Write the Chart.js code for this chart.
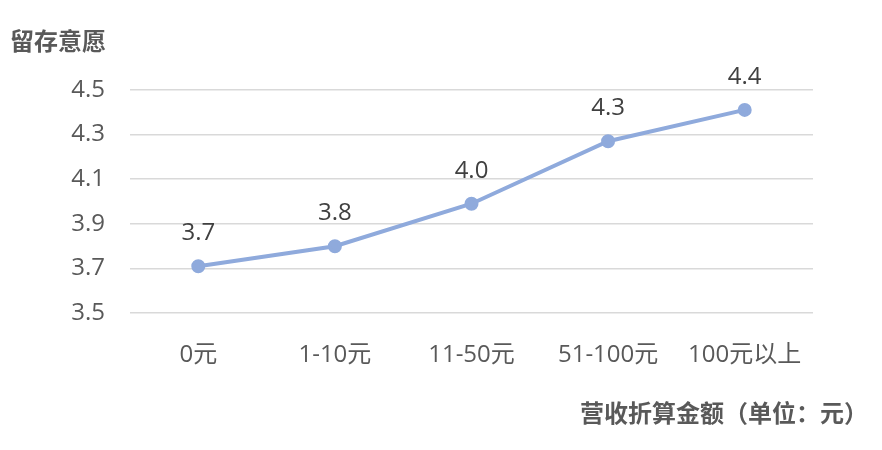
<!DOCTYPE html>
<html lang="zh">
<head>
    <meta charset="UTF-8">
    <title>留存意愿</title>
    <script src="https://cdn.jsdelivr.net/npm/chart.js"></script>
    <style>
        body { margin: 0; background: #fff; }
        #wrap { width: 882px; height: 450px; }
    </style>
</head>
<body>
    <div id="wrap"><canvas id="retentionChart"></canvas></div>
    <script>
        const categories = ['0元', '1-10元', '11-50元', '51-100元', '100元以上'];
        const retention = [3.71, 3.80, 3.99, 4.27, 4.41];
        const yTitle = '留存意愿';
        const xTitle = '营收折算金额（单位：元）';

        const fontFamily = "'Open Sans', 'Noto Sans CJK SC', sans-serif";
        const cjkFamily = "'Noto Sans CJK SC', sans-serif";

        // value above each point + the x axis title at the bottom right corner
        const extras = {
            id: 'extras',
            afterDatasetsDraw(chart) {
                const ctx = chart.ctx;
                const meta = chart.getDatasetMeta(0);
                ctx.save();
                ctx.font = '24px ' + fontFamily;
                ctx.fillStyle = '#404040';
                ctx.textAlign = 'center';
                ctx.textBaseline = 'middle';
                meta.data.forEach((pt, i) => {
                    ctx.fillText(retention[i].toFixed(1), pt.x, pt.y - 33);
                });
                ctx.font = 'bold 24px ' + cjkFamily;
                ctx.fillStyle = '#595959';
                ctx.textAlign = 'right';
                ctx.fillText(xTitle, chart.width - 14, chart.height - 37);
                ctx.restore();
            }
        };

        const ctx = document.getElementById('retentionChart').getContext('2d');
        new Chart(ctx, {
            type: 'line',
            data: {
                labels: categories,
                datasets: [{
                    data: retention,
                    borderColor: '#8faadc',
                    backgroundColor: '#8faadc',
                    borderWidth: 4,
                    pointRadius: 5,
                    pointHoverRadius: 5,
                    tension: 0,
                    fill: false
                }]
            },
            options: {
                responsive: true,
                maintainAspectRatio: false,
                animation: false,
                layout: { padding: { left: 10, right: 69, top: 26, bottom: 52 } },
                plugins: {
                    legend: { display: false },
                    tooltip: { enabled: false },
                    title: {
                        display: true,
                        text: yTitle,
                        align: 'start',
                        color: '#595959',
                        font: { family: cjkFamily, size: 24, weight: 'bold' },
                        padding: { top: 0, bottom: 35 }
                    }
                },
                scales: {
                    x: {
                        offset: true,
                        grid: { display: false, drawTicks: false },
                        border: { display: false },
                        ticks: {
                            color: '#595959',
                            font: { family: fontFamily, size: 24 },
                            padding: 28
                        }
                    },
                    y: {
                        min: 3.5,
                        max: 4.5,
                        afterFit: s => { s.width = 120; },
                        grid: { color: '#d9d9d9', lineWidth: 1.5, drawTicks: false },
                        border: { display: false },
                        ticks: {
                            stepSize: 0.2,
                            color: '#595959',
                            font: { family: fontFamily, size: 24 },
                            padding: 25,
                            callback: v => v.toFixed(1)
                        }
                    }
                }
            },
            plugins: [extras]
        });
    </script>
</body>
</html>
